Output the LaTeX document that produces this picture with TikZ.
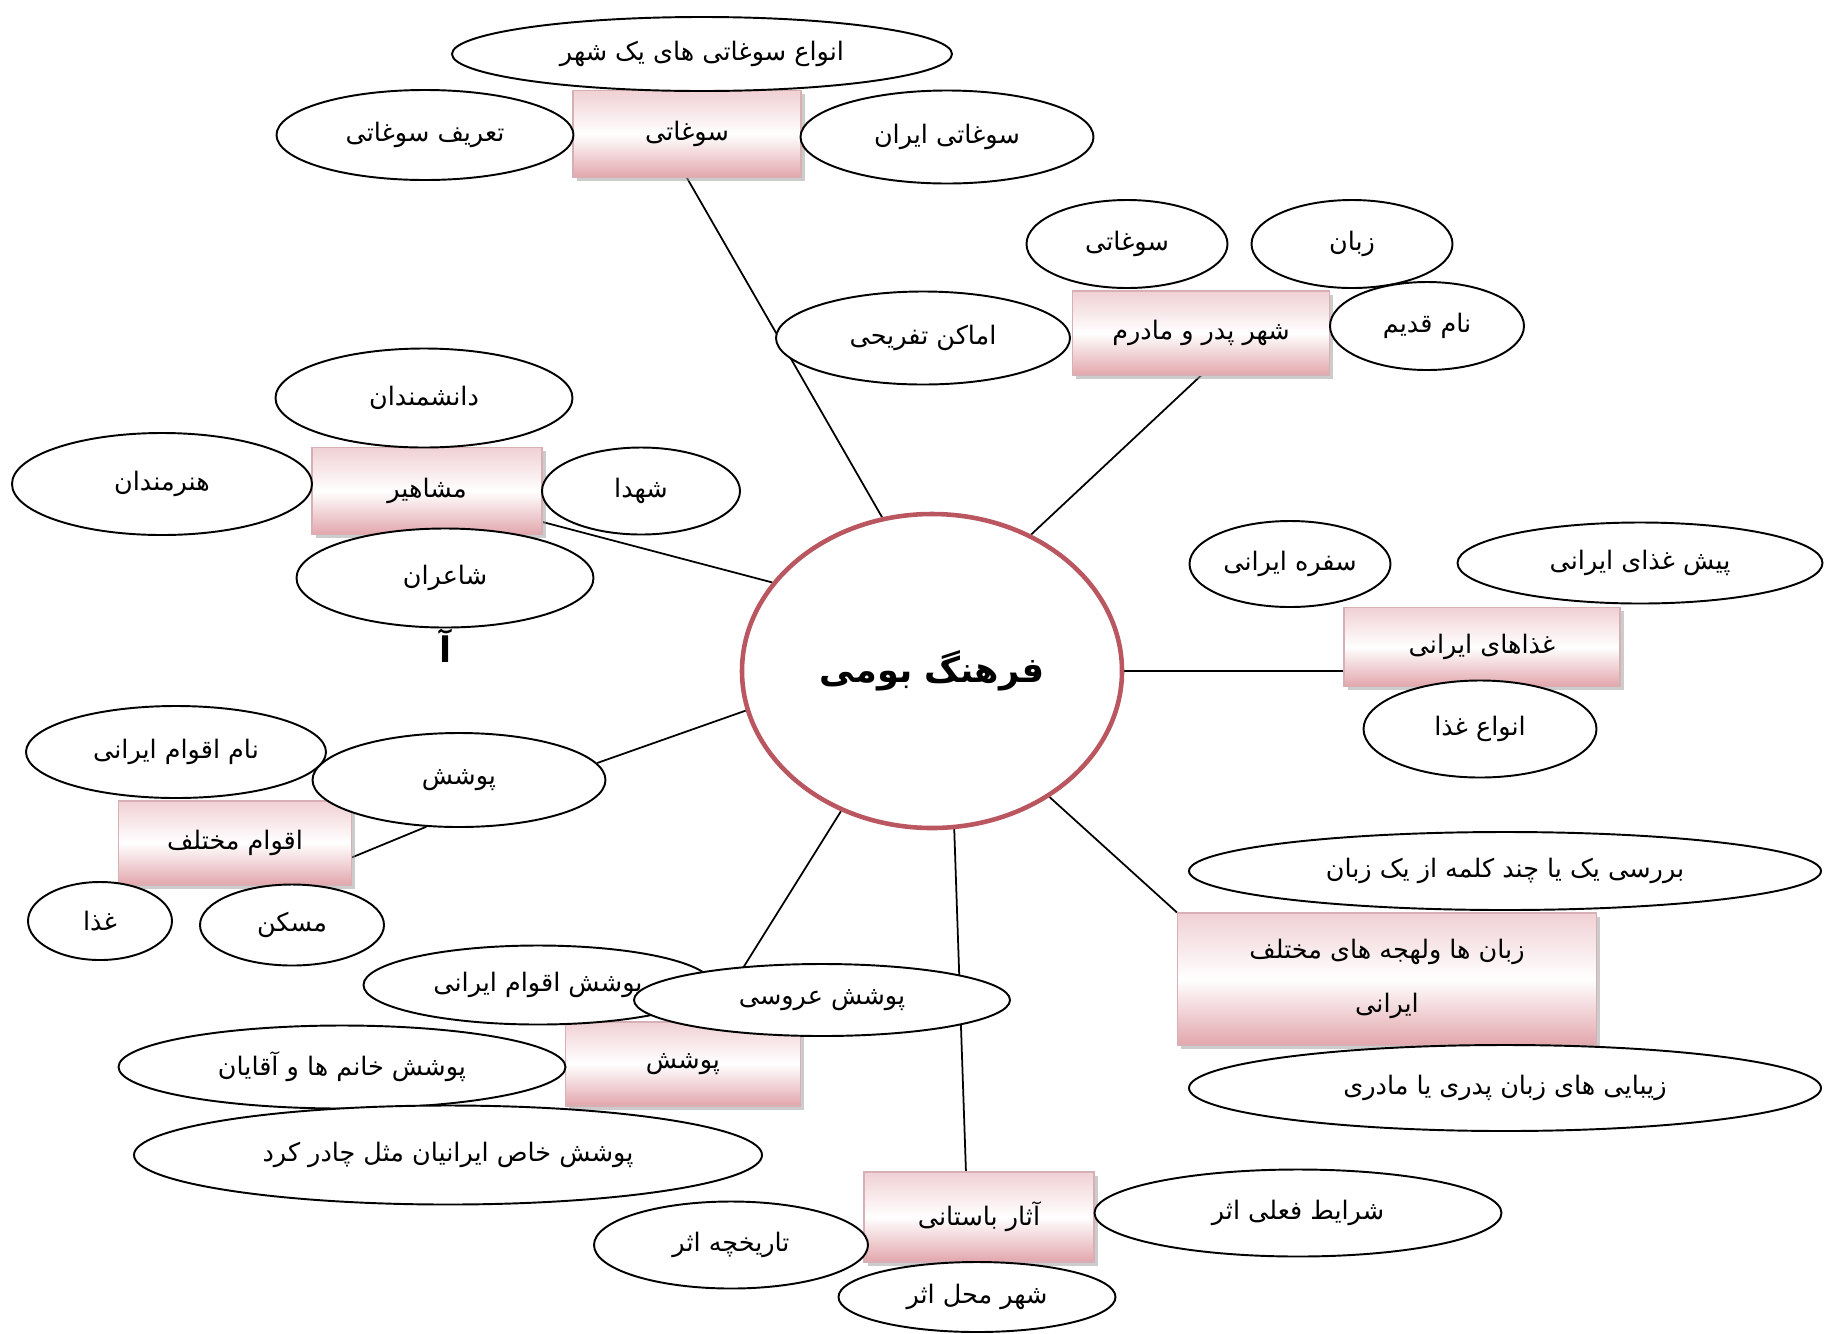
\documentclass[tikz,border=0pt]{standalone}
\usepackage{fontspec}
\usepackage{tikz}
\usetikzlibrary{shapes,shadows,backgrounds}
\newfontfamily\arabicfont[Script=Arabic]{DejaVu Sans}
\TeXXeTstate=1

\begin{document}
\begin{tikzpicture}[x=0.02cm, y=-0.02cm]

  \newcommand{\fatxt}[1]{\beginR#1\endR}
  \definecolor{hubred}{RGB}{186,86,96}
  \definecolor{boxtop}{RGB}{240,208,212}
  \definecolor{boxbot}{RGB}{226,166,172}
  \definecolor{boxline}{RGB}{214,176,180}
  \tikzset{
    wh/.style 2 args = {minimum width=#1*0.02cm, minimum height=#2*0.02cm},
    leaf/.style = {ellipse, draw, line width=1.1pt, fill=white, inner sep=0pt,
      font=\arabicfont\fontsize{14.5}{17}\selectfont},
    topic/.style = {rectangle, draw=boxline, line width=0.6pt, inner sep=0pt,
      top color=boxtop, bottom color=boxbot, middle color=white,
      drop shadow={shadow xshift=0.07cm, shadow yshift=-0.07cm, fill=black!40},
      font=\arabicfont\fontsize{14.5}{17}\selectfont},
    hub/.style = {ellipse, draw=hubred, line width=2.6pt, fill=white, inner sep=0pt,
      font=\arabicfont\bfseries\fontsize{20}{24}\selectfont},
    link/.style = {line width=1pt}
  }

  \useasboundingbox (0,0) rectangle (1825,1333);

  \node[hub, wh={380}{314}] (culture) at (932,671) {\fatxt{فرهنگ بومی}};

  \node[topic, wh={228}{87}] (sog) at (687,134) {\fatxt{سوغاتی}};
  \node[topic, wh={257}{84}] (shahr) at (1201,333) {\fatxt{شهر پدر و مادرم}};
  \node[topic, wh={230}{87}] (mash) at (427,491) {\fatxt{مشاهیر}};
  \node[topic, wh={276}{79}] (ghaza) at (1482,647) {\fatxt{غذاهای ایرانی}};
  \node[topic, wh={233}{84}] (aqwam) at (235,843) {\fatxt{اقوام مختلف}};
  \node[topic, wh={419}{132}, align=center] (zaban) at (1387,979)
    {\fatxt{زبان ها ولهجه های مختلف}\\[14pt]\fatxt{ایرانی}};
  \node[topic, wh={235}{84}] (poosh) at (683,1064) {\fatxt{پوشش}};
  \node[topic, wh={230}{90}] (athar) at (979,1217) {\fatxt{آثار باستانی}};

  \node[leaf, wh={500}{74}] (sogkinds) at (702,54) {\fatxt{انواع سوغاتی های یک شهر}};
  \node[leaf, wh={297}{90}] (sogdef) at (425,135) {\fatxt{تعریف سوغاتی}};
  \node[leaf, wh={293}{93}] (sogiran) at (947,137) {\fatxt{سوغاتی ایران}};

  \node[leaf, wh={201}{88}] (shahrsog) at (1127,244) {\fatxt{سوغاتی}};
  \node[leaf, wh={201}{88}] (shahrzaban) at (1352,244) {\fatxt{زبان}};
  \node[leaf, wh={294}{93}] (amaken) at (923,338) {\fatxt{اماکن تفریحی}};
  \node[leaf, wh={194}{88}] (namqadim) at (1427,326) {\fatxt{نام قدیم}};

  \node[leaf, wh={297}{99}] (danesh) at (424,398) {\fatxt{دانشمندان}};
  \node[leaf, wh={300}{102}] (honar) at (162,484) {\fatxt{هنرمندان}};
  \node[leaf, wh={198}{87}] (shohada) at (641,491) {\fatxt{شهدا}};
  \node[leaf, wh={297}{99}] (shaeran) at (445,578) {\fatxt{شاعران}};
  \node[font=\arabicfont\bfseries\fontsize{20}{24}\selectfont] (alef) at (446,646) {آ};

  \node[leaf, wh={201}{86}] (sofreh) at (1290,564) {\fatxt{سفره ایرانی}};
  \node[leaf, wh={365}{81}] (pishghaza) at (1640,563) {\fatxt{پیش غذای ایرانی}};
  \node[leaf, wh={233}{97}] (ghazakinds) at (1480,729) {\fatxt{انواع غذا}};

  \node[leaf, wh={300}{92}] (namaqwam) at (176,752) {\fatxt{نام اقوام ایرانی}};
  \node[leaf, wh={293}{94}] (aqwampoosh) at (459,780) {\fatxt{پوشش}};
  \node[leaf, wh={144}{78}] (aqwamghaza) at (100,921) {\fatxt{غذا}};
  \node[leaf, wh={184}{81}] (maskan) at (292,925) {\fatxt{مسکن}};

  \node[leaf, wh={632}{78}] (barresi) at (1505,871) {\fatxt{بررسی یک یا چند کلمه از یک زبان}};
  \node[leaf, wh={632}{86}] (zibayi) at (1505,1088) {\fatxt{زیبایی های زبان پدری یا مادری}};

  \node[leaf, wh={349}{79}] (pooshaqwam) at (538,985) {\fatxt{پوشش اقوام ایرانی}};
  \node[leaf, wh={376}{72}] (aroosi) at (822,1000) {\fatxt{پوشش عروسی}};
  \node[leaf, wh={447}{83}] (khanomha) at (342,1067) {\fatxt{پوشش خانم ها و آقایان}};
  \node[leaf, wh={628}{99}] (chador) at (448,1155) {\fatxt{پوشش خاص ایرانیان مثل چادر کرد}};

  \node[leaf, wh={407}{87}] (sharayet) at (1298,1213) {\fatxt{شرایط فعلی اثر}};
  \node[leaf, wh={274}{87}] (tarikhche) at (731,1245) {\fatxt{تاریخچه اثر}};
  \node[leaf, wh={277}{70}] (mahal) at (977,1297) {\fatxt{شهر محل اثر}};

  \begin{pgfonlayer}{background}
    \draw[link] (culture.108) -- (sog.south);
    \draw[link] (culture.54) -- (shahr.south);
    \draw[link] (culture.151) -- (mash.-15);
    \draw[link] (culture.east) -- (culture.east -| ghaza.west);
    \draw[link] (culture.192) -- (aqwampoosh.7);
    \draw[link] (aqwampoosh.235) -- (aqwam.-7);
    \draw[link] (culture.-47) -- (zaban.north west);
    \draw[link] (culture.237) -- (poosh);
    \draw[link] (culture.-82) -- (athar.106);
  \end{pgfonlayer}

\end{tikzpicture}
\end{document}
